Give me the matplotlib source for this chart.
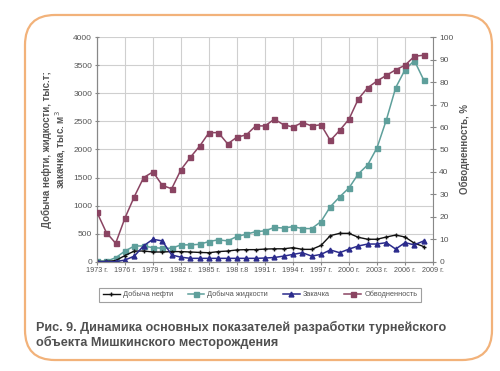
import matplotlib
matplotlib.use("Agg")
import matplotlib.pyplot as plt
from matplotlib.patches import FancyBboxPatch
import numpy as np

years = list(range(1973, 2009))
oil = [5, 5, 20, 110, 190, 190, 173, 173, 180, 180, 173, 165, 160, 180, 190, 210,
       215, 215, 225, 230, 230, 250, 220, 220, 290, 465, 505, 505, 435, 400, 400,
       440, 475, 440, 330, 270]
liquid = [10, 10, 70, 190, 280, 280, 250, 240, 240, 300, 300, 310, 360, 390, 370,
          450, 490, 535, 550, 610, 600, 625, 590, 590, 715, 980, 1155, 1315, 1565,
          1725, 2030, 2525, 3100, 3420, 3585, 3240]
injection = [0, 0, 0, 30, 100, 285, 400, 370, 120, 80, 60, 60, 60, 60, 60, 60, 60,
             60, 65, 75, 100, 130, 160, 100, 130, 210, 160, 225, 280, 315, 315, 340,
             225, 340, 300, 370]
watercut = [22, 13, 8.2, 19.5, 29, 37.5, 40, 34, 32.5, 41, 46.5, 51.5, 57.5, 57.5,
            52.5, 55.5, 56.5, 60.5, 60.5, 63.5, 61, 60, 62, 60.5, 61, 54, 58.5, 63.5,
            72.5, 77.5, 80.5, 83, 85.5, 87.5, 91.5, 92]
tick_years = list(range(1973, 2010, 3))
tick_labels = ["1973 г.", "1976 г.", "1979 г.", "1982 г.", "1985 г.", "198 г.8",
               "1991 г.", "1994 г.", "1997 г.", "2000 г.", "2003 г.", "2006 г.", "2009 г."]
labels = ["Добыча нефти", "Добыча жидкости", "Закачка", "Обводненность"]

c_oil = "#111111"
c_liq = "#5e9f9b"
c_inj = "#2b2b8c"
c_wc = "#8a4462"
txt = "#555555"

plt.rcParams['font.family'] = ['Liberation Sans', 'DejaVu Sans']
fig = plt.figure(figsize=(5.0, 3.71), dpi=100)

# rounded border
border = FancyBboxPatch((0.05, 0.0296), 0.934, 0.93,
                        boxstyle="round,pad=0,rounding_size=0.06",
                        mutation_aspect=500 / 371,
                        transform=fig.transFigure, fill=False,
                        edgecolor="#f2b27a", linewidth=1.6, zorder=0)
fig.patches.append(border)

ax = fig.add_axes([0.194, 0.2946, 0.672, 0.605])
ax2 = ax.twinx()

ax.set_xlim(1973, 2009)
ax.set_ylim(0, 4000)
ax2.set_ylim(0, 100)
ax.set_xticks(tick_years)
ax.set_xticklabels(tick_labels, fontsize=5.2, color=txt)
ax.set_yticks(np.arange(0, 4001, 500))
ax.set_yticklabels([str(v) for v in range(0, 4001, 500)], fontsize=6, color=txt)
ax2.set_yticks(np.arange(0, 101, 10))
ax2.set_yticklabels([str(v) for v in range(0, 101, 10)], fontsize=6, color=txt)
ax.grid(True, color="#cfcfcf", linewidth=0.8)
ax.set_axisbelow(True)
for a in (ax, ax2):
    for s in a.spines.values():
        s.set_color("#888888")
        s.set_linewidth(0.8)
    a.spines['top'].set_visible(False)
ax.spines['right'].set_visible(False)
ax.tick_params(axis='x', length=2, pad=2, color="#888888")
ax.tick_params(axis='y', length=3, pad=2, color="#888888", direction='inout')
ax2.tick_params(axis='y', length=5, pad=2, color="#888888", direction='inout')

l1, = ax.plot(years, oil, color=c_oil, marker='+', markersize=3.5, mew=1.0, lw=1.0,
              label=labels[0], zorder=4)
l2, = ax.plot(years, liquid, color=c_liq, marker='s', markersize=3.6, lw=1.1,
              label=labels[1], zorder=3)
l3, = ax.plot(years, injection, color=c_inj, marker='^', markersize=3.5, lw=1.1,
              label=labels[2], zorder=5)
l4, = ax2.plot(years, watercut, color=c_wc, marker='s', markersize=3.6, lw=1.1,
               label=labels[3], zorder=3)

ax.set_ylabel("Добыча нефти, жидкости, тыс.т;\nзакачка, тыс. м$^3$", fontsize=7,
              fontweight='bold', color=txt, labelpad=4, linespacing=1.1)
ax2.set_ylabel("Обводненность, %", fontsize=7, fontweight='bold', color=txt,
               labelpad=4)

leg = fig.legend(handles=[l1, l2, l3, l4], labels=labels, loc='center',
                 bbox_to_anchor=(0.52, 0.206), ncol=4, fontsize=5.3, frameon=True,
                 fancybox=False, edgecolor="#888888", handlelength=2.3,
                 columnspacing=2.0, borderpad=0.45, handletextpad=0.4)
leg.get_frame().set_linewidth(0.8)
for t in leg.get_texts():
    t.set_color(txt)

fig.text(0.072, 0.097, "Рис. 9. Динамика основных показателей разработки турнейского\n"
         "объекта Мишкинского месторождения", fontsize=9.1, fontweight='bold',
         color="#505050", va='center', ha='left', linespacing=1.25)

fig.savefig("out.png", dpi=100)
